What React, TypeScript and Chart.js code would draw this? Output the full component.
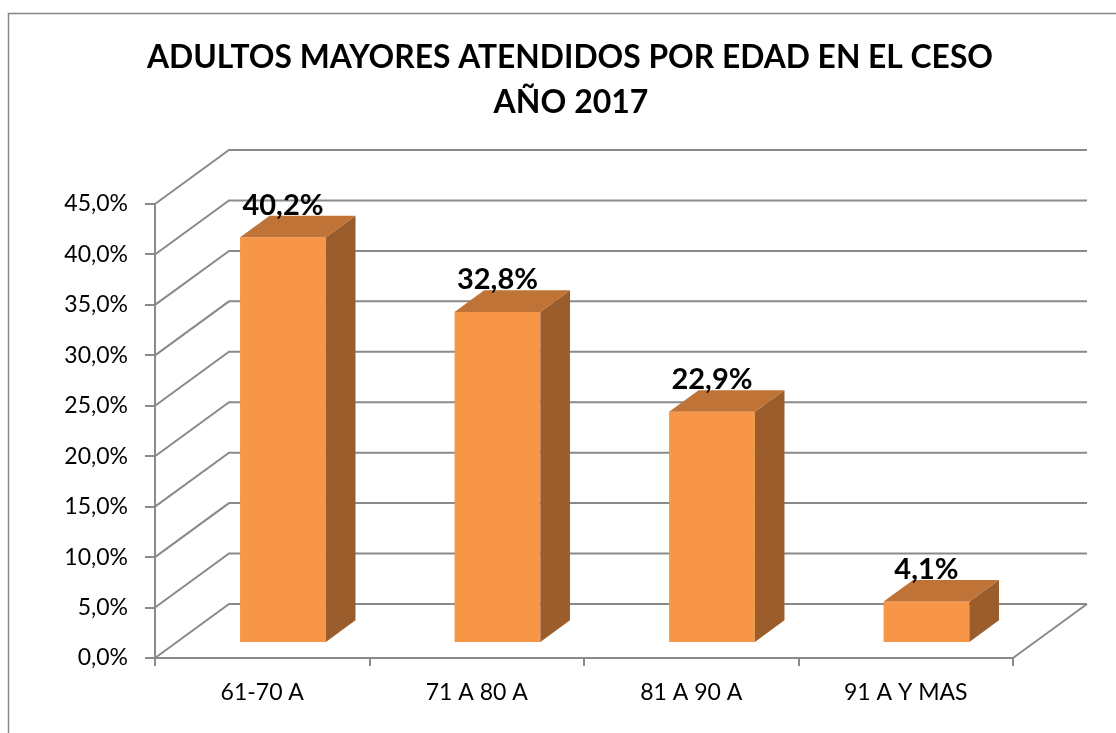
import React, { useEffect, useRef } from 'react';
import { Chart, registerables } from 'chart.js';

Chart.register(...registerables);

// ---- data ----
const categories = ['61-70 A', '71 A 80 A', '81 A 90 A', '91 A Y MAS'];
const values = [40.2, 32.8, 22.9, 4.1];
const titleLines = ['ADULTOS MAYORES ATENDIDOS POR EDAD EN EL CESO', 'AÑO 2017'];
const yMin = 0;
const yMax = 45;
const yStep = 5;

// ---- styles ----
const W = 1116;
const H = 733;
const GRAY = '#8a8a8a';
const FRONT = '#F79646';
const TOP = '#BF7336';
const SIDE = '#9B5D2B';
const FONT = 'Lato';
const DEPTH_X = 74;
const DEPTH_Y = -54;
const BAR_FRONT = 0.28;
const BAR_DEPTH = 0.4;

const fmt = (v: number) => v.toFixed(1).replace('.', ',') + '%';

const threeD = {
  id: 'threeD',
  beforeDraw(chart: any) {
    const ctx = chart.ctx;
    ctx.save();
    ctx.fillStyle = '#ffffff';
    ctx.fillRect(0, 0, W, H);
    ctx.strokeStyle = '#868686';
    ctx.lineWidth = 1.5;
    ctx.strokeRect(8.5, 13.5, 1300, 900);
    ctx.restore();
  },
  beforeDatasetsDraw(chart: any) {
    const ctx = chart.ctx;
    const { chartArea, scales } = chart;
    const y = scales.y;
    ctx.save();
    ctx.strokeStyle = GRAY;
    ctx.lineWidth = 2;
    ctx.beginPath();
    for (let v = yMin; v <= yMax + 1e-9; v += yStep) {
      const py = y.getPixelForValue(v);
      ctx.moveTo(chartArea.left, py);
      ctx.lineTo(chartArea.left + DEPTH_X, py + DEPTH_Y);
      ctx.lineTo(chartArea.right + DEPTH_X, py + DEPTH_Y);
    }
    const p0 = y.getPixelForValue(0);
    ctx.moveTo(chartArea.right, p0);
    ctx.lineTo(chartArea.right + DEPTH_X, p0 + DEPTH_Y);
    ctx.stroke();
    ctx.restore();
    ctx.save();
    ctx.translate(BAR_FRONT * DEPTH_X, BAR_FRONT * DEPTH_Y);
  },
  afterDatasetsDraw(chart: any) {
    const ctx = chart.ctx;
    const meta = chart.getDatasetMeta(0);
    const bx = BAR_DEPTH * DEPTH_X;
    const by = BAR_DEPTH * DEPTH_Y;
    meta.data.forEach((el: any) => {
      const { x, y, base, width } = el.getProps(['x', 'y', 'base', 'width'], true);
      const l = x - width / 2;
      const r = x + width / 2;
      ctx.fillStyle = SIDE;
      ctx.beginPath();
      ctx.moveTo(r, y);
      ctx.lineTo(r + bx, y + by);
      ctx.lineTo(r + bx, base + by);
      ctx.lineTo(r, base);
      ctx.closePath();
      ctx.fill();
      ctx.fillStyle = TOP;
      ctx.beginPath();
      ctx.moveTo(l, y);
      ctx.lineTo(l + bx, y + by);
      ctx.lineTo(r + bx, y + by);
      ctx.lineTo(r, y);
      ctx.closePath();
      ctx.fill();
    });
    meta.data.forEach((el: any, i: number) => {
      const { x, y } = el.getProps(['x', 'y'], true);
      ctx.fillStyle = '#000';
      ctx.font = `bold 29px ${FONT}`;
      ctx.textAlign = 'center';
      ctx.textBaseline = 'alphabetic';
      ctx.fillText(fmt(values[i]), x, y + by - 1);
    });
    ctx.restore();
  },
  afterDraw(chart: any) {
    const ctx = chart.ctx;
    ctx.save();
    ctx.fillStyle = '#000';
    ctx.font = `bold 32px ${FONT}`;
    ctx.textAlign = 'center';
    ctx.textBaseline = 'middle';
    ctx.fillText(titleLines[0], 570, 58, 846);
    ctx.fillText(titleLines[1], 571, 103);
    ctx.restore();
  },
};

export default function App() {
  const ref = useRef<HTMLCanvasElement | null>(null);
  useEffect(() => {
    if (!ref.current) return;
    const chart = new Chart(ref.current, {
      type: 'bar',
      data: {
        labels: categories,
        datasets: [
          {
            data: values,
            backgroundColor: FRONT,
            borderWidth: 0,
            barPercentage: BAR_DEPTH,
            categoryPercentage: 1,
            clip: false as any,
          },
        ],
      },
      options: {
        responsive: false,
        animation: false,
        events: [],
        layout: { padding: { left: 0, right: 103, top: 204, bottom: 0 } },
        plugins: {
          legend: { display: false },
          tooltip: { enabled: false },
          title: { display: false },
        },
        scales: {
          x: {
            type: 'category',
            offset: true,
            grid: {
              display: true,
              offset: true,
              drawOnChartArea: false,
              drawTicks: true,
              tickLength: 8,
              color: GRAY,
              lineWidth: 2,
            },
            border: { display: true, color: GRAY, width: 2 },
            ticks: { color: '#000', font: { family: FONT, size: 23 }, padding: 13 },
            afterFit: (s: any) => {
              s.height = 75;
            },
          },
          y: {
            type: 'linear',
            min: yMin,
            max: yMax,
            ticks: {
              stepSize: yStep,
              callback: (v: any) => fmt(Number(v)),
              color: '#000',
              font: { family: FONT, size: 23 },
              padding: 17,
            },
            grid: {
              display: true,
              drawOnChartArea: false,
              drawTicks: true,
              tickLength: 10,
              color: GRAY,
              lineWidth: 2,
            },
            border: { display: true, color: GRAY, width: 2 },
            afterFit: (s: any) => {
              s.width = 155;
            },
          },
        },
      },
      plugins: [threeD],
    });
    return () => chart.destroy();
  }, []);
  return (
    <div style={{ position: 'absolute', left: 0, top: 0, width: W, height: H, overflow: 'hidden', background: '#fff' }}>
      <canvas ref={ref} width={W} height={H} style={{ display: 'block' }} />
    </div>
  );
}
